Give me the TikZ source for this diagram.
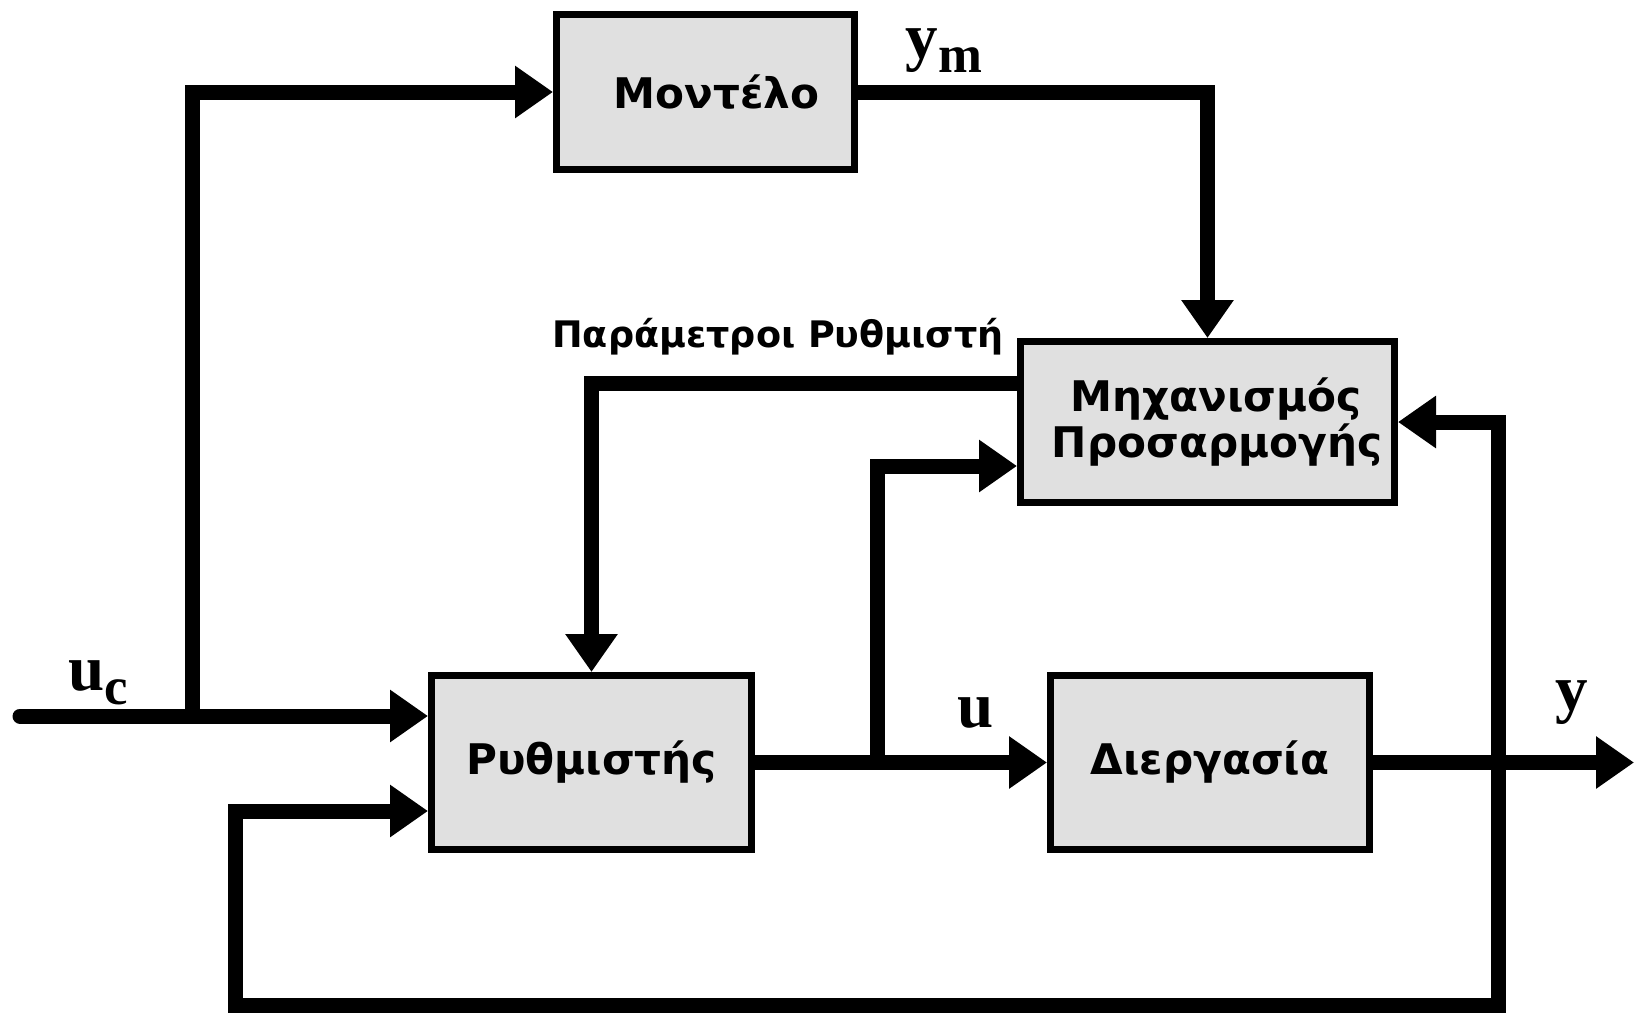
\documentclass[tikz,border=0pt]{standalone}
\usepackage{fontspec}
\newfontfamily\boxfont{DejaVu Sans}
\newfontfamily\lblfont{Liberation Serif}
\definecolor{boxgray}{HTML}{E0E0E0}
\usepackage{tikz}
\usetikzlibrary{arrows.meta}
\newcommand{\lblsub}[1]{\raisebox{-0.14cm}{\fontsize{15}{15}\selectfont #1}}

\begin{document}
\begin{tikzpicture}[
    block/.style={draw,line width=0.07cm,fill=boxgray,inner sep=0pt,align=center,font=\boxfont\bfseries\fontsize{12}{13}\selectfont},
    sig/.style={line width=0.15cm},
    flow/.style={sig,-{Triangle[length=0.38cm,width=0.5cm]}},
    lbl/.style={anchor=base west,inner sep=0pt,font=\lblfont\bfseries\fontsize{18.5}{18.5}\selectfont}]
    \useasboundingbox (0,0) rectangle (16.34,10.12);
    \node[block,minimum width=2.98cm,minimum height=1.55cm] (model) at (7.055,9.20) {\hspace*{0.22cm}Μοντέλο};
    \node[block,minimum width=3.74cm,minimum height=1.61cm] (mech) at (12.075,5.90) {\hspace*{0.17cm}Μηχανισμός\\\hspace*{0.19cm}Προσαρμογής};
    \node[block,minimum width=3.20cm,minimum height=1.74cm] (ctrl) at (5.915,2.495) {Ρυθμιστής};
    \node[block,minimum width=3.19cm,minimum height=1.74cm] (proc) at (12.10,2.495) {Διεργασία};
    \coordinate (uc) at (0.20,2.96);
    \coordinate (ucsplit) at (1.92,2.96);
    \coordinate (usplit) at (8.77,2.495);
    \coordinate (yout) at (16.34,2.495);
    \coordinate (fbr) at (14.98,0.07);
    \coordinate (fbl) at (2.35,0.07);
    \draw[flow,line cap=round] (uc) -- (uc -| ctrl.west);
    \draw[flow] (ucsplit) |- (model.west);
    \draw[flow] (model.east) -| (mech.north);
    \draw[flow] ([yshift=0.39cm]mech.west) -| (ctrl.north);
    \draw[flow] (ctrl.east) -- (proc.west);
    \draw[flow] (usplit) |- ([yshift=-0.44cm]mech.west);
    \draw[flow] (proc.east) -- (yout);
    \draw[sig,{Triangle[length=0.38cm,width=0.5cm]}-{Triangle[length=0.38cm,width=0.5cm]}] (mech.east) -| (fbr) -- (fbl) |- ([yshift=-0.485cm]ctrl.west);
    \node[lbl] (uclbl) at (0.68,3.22) {u\lblsub{c}};
    \node[lbl] (ymlbl) at (9.05,9.54) {y\lblsub{m}};
    \node[lbl] (ulbl) at (9.57,2.85) {u};
    \node[lbl] (ylbl) at (15.55,3.02) {y};
    \node[anchor=base,inner sep=0pt,font=\boxfont\bfseries\fontsize{10.4}{12}\selectfont] (paramlbl) at (7.78,6.65) {Παράμετροι Ρυθμιστή};
\end{tikzpicture}
\end{document}
